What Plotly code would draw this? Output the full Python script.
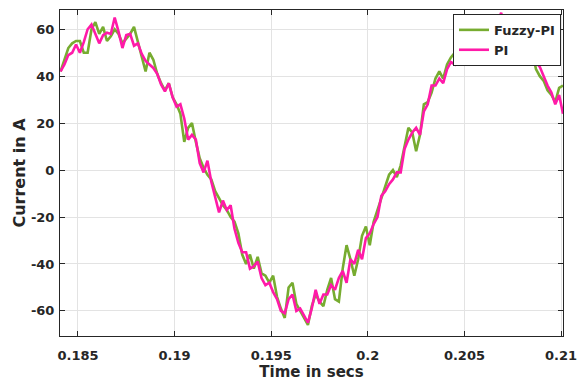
import numpy as np
import plotly.graph_objects as go

# ---- data ----
t_start = 0.1841
t_step = 0.0002
n_points = 131
time_s = np.round(t_start + t_step * np.arange(n_points), 4)

fuzzy_pi = [
    42, 47, 52, 54, 55, 55, 50, 50, 60, 63,
    58, 61, 55, 57, 60, 58, 54, 56, 58, 61,
    55, 48, 42, 50, 47, 41, 37, 34, 37, 31,
    28, 24, 12, 18, 20, 12, 5, 1, -2, -4,
    -9, -12, -15, -17, -20, -22, -27, -36, -40, -36,
    -42, -37, -44, -45, -48, -45, -54, -59, -63, -50,
    -48, -57, -60, -63, -66, -58, -53, -56, -58, -51,
    -46, -55, -56, -42, -32, -38, -45, -38, -28, -24,
    -32, -22, -17, -13, -7, -2, 0, -3, 2, 10,
    18, 16, 8, 15, 28, 29, 33, 39, 42, 39,
    45, 48, 50, 52, 55, 54, 58, 56, 59, 45,
    57, 60, 62, 61, 60, 62, 58, 61, 59, 55,
    56, 53, 51, 43, 40, 38, 34, 32, 29, 35,
    36,
]

pi_ctrl = [
    42, 45, 49, 50, 53.5, 50, 54.5, 60, 62, 58,
    54, 57.5, 58.5, 58, 65, 59, 52, 57.5, 58, 53,
    54, 49.5, 46.5, 45, 43.5, 41, 36.5, 33.5, 37, 31,
    27, 28, 22, 13, 15, 13, 3, -1, 4, -5,
    -12, -18, -13, -17, -15, -25, -31, -35, -35, -42,
    -41, -39, -46, -49, -48, -52, -55, -60, -61, -55,
    -53, -60, -59, -62, -65, -59, -51, -57, -53, -53,
    -49, -51, -46, -43, -48, -38, -40, -34, -38, -29,
    -27, -23, -20, -11, -9, -6, -4, -1, -1, 9,
    13, 16, 18, 15, 25, 28, 36, 36, 39, 37,
    43, 46, 45, 50, 53, 56, 55, 58, 57, 60,
    59, 62, 60, 63, 67, 61, 59, 60, 57, 58,
    54, 52, 49, 46, 44, 40, 36, 33, 28, 32,
    24,
]

x_ticks = [0.185, 0.19, 0.195, 0.2, 0.205, 0.21]
x_tick_labels = ["0.185", "0.19", "0.195", "0.2", "0.205", "0.21"]
y_ticks = [-60, -40, -20, 0, 20, 40, 60]
y_tick_labels = ["-60", "-40", "-20", "0", "20", "40", "60"]

GREEN = "#77AC30"
PINK = "#FF1AA8"
TXT = "#262626"
FONT = "DejaVu Sans"

fig = go.Figure()
fig.add_trace(go.Scatter(x=time_s, y=fuzzy_pi, mode="lines", name="Fuzzy-PI",
                         line=dict(color=GREEN, width=2.6)))
fig.add_trace(go.Scatter(x=time_s, y=pi_ctrl, mode="lines", name="PI",
                         line=dict(color=PINK, width=2.6)))

axis_common = dict(
    showline=True, linecolor=TXT, linewidth=1, mirror="ticks",
    ticks="inside", ticklen=5, tickcolor=TXT, tickwidth=1,
    showgrid=True, gridcolor="#E3E3E3", gridwidth=1, zeroline=False,
    tickfont=dict(family=FONT, size=13, color=TXT, weight="bold"),
    ticklabeloverflow="allow", automargin=False,
)

fig.update_layout(
    width=577, height=385,
    margin=dict(l=60, r=14, t=10, b=49),
    paper_bgcolor="white", plot_bgcolor="white",
    font=dict(family=FONT, color=TXT),
    xaxis=dict(range=[0.18407, 0.2101], tickvals=x_ticks, ticktext=x_tick_labels,
               title=dict(text="<b>Time in secs</b>", standoff=4,
                          font=dict(family=FONT, size=15, color=TXT)),
               ticklabelstandoff=7,
               **axis_common),
    yaxis=dict(range=[-70.7, 68.2], tickvals=y_ticks, ticktext=y_tick_labels,
               title=dict(text="<b>Current in A</b>", standoff=1,
                          font=dict(family=FONT, size=16, color=TXT)),
               ticklabelstandoff=2,
               **axis_common),
    legend=dict(x=0.996, y=0.988, xanchor="right", yanchor="top",
                bgcolor="white", bordercolor=TXT, borderwidth=1,
                font=dict(family=FONT, size=13, color=TXT, weight="bold"),
                tracegroupgap=0, itemwidth=30),
    showlegend=True,
)

fig.write_html("out.html")
